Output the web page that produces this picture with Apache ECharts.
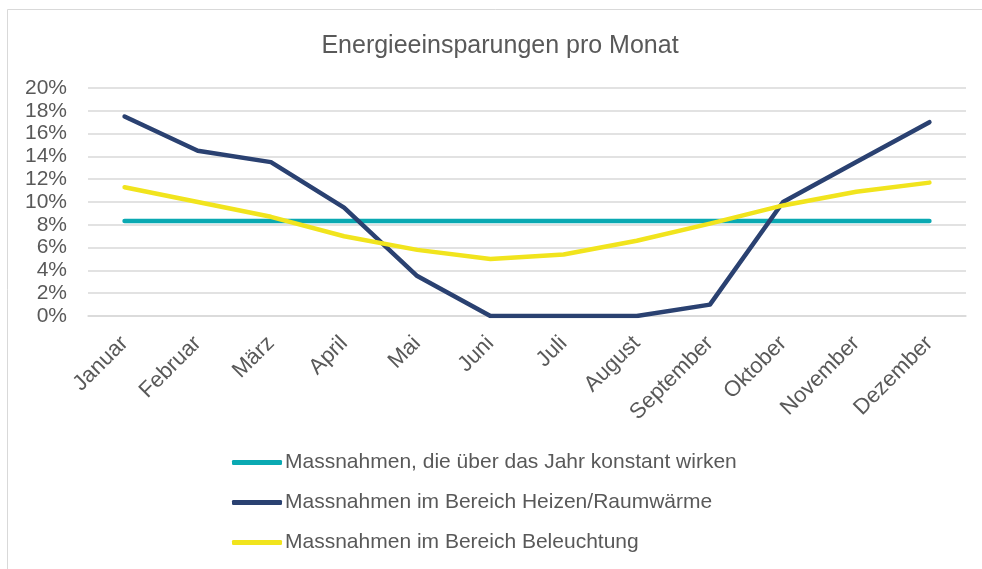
<!DOCTYPE html>
<html>
<head>
<meta charset="utf-8">
<script src="https://cdn.jsdelivr.net/npm/echarts@6/dist/echarts.min.js"></script>
<style>
  html, body { margin: 0; padding: 0; background: #fff; }
  #chart { width: 982px; height: 569px; }
</style>
</head>
<body>
<div id="chart"></div>
<script>
const months = ['Januar', 'Februar', 'März', 'April', 'Mai', 'Juni', 'Juli', 'August', 'September', 'Oktober', 'November', 'Dezember']
const konstant = [8.33, 8.33, 8.33, 8.33, 8.33, 8.33, 8.33, 8.33, 8.33, 8.33, 8.33, 8.33]
const heizen = [17.5, 14.5, 13.5, 9.5, 3.5, 0, 0, 0, 1.0, 10.0, 13.5, 17.0]
const beleuchtung = [11.3, 10.0, 8.7, 7.0, 5.8, 5.0, 5.4, 6.6, 8.1, 9.7, 10.9, 11.7]
const seriesNames = [
    'Massnahmen, die über das Jahr konstant wirken',
    'Massnahmen im Bereich Heizen/Raumwärme',
    'Massnahmen im Bereich Beleuchtung'
]
const seriesColors = ['#0aa9b2', '#2a4171', '#f1e41d']

const textColor = '#595959'
const font = 'Liberation Sans, Arial, sans-serif'

let chart = echarts.init(document.getElementById('chart'))

function lineSeries(name, data, color) {
    return {
        name: name,
        type: 'line',
        data: data,
        showSymbol: false,
        symbol: 'none',
        color: color,
        lineStyle: { width: 4.5, color: color, cap: 'round', join: 'round' },
        emphasis: { disabled: true }
    }
}

chart.setOption({
    backgroundColor: '#fff',
    animation: false,
    graphic: [{
        type: 'rect',
        shape: { x: 7.5, y: 9.5, width: 1000, height: 600 },
        style: { fill: null, stroke: '#d9d9d9', lineWidth: 1 },
        silent: true
    }],
    title: {
        text: 'Energieeinsparungen pro Monat',
        left: 495,
        textAlign: 'center',
        top: 29,
        textStyle: { color: textColor, fontSize: 25, fontWeight: 'normal', fontFamily: font }
    },
    grid: {
        left: 88,
        right: 16,
        top: 88,
        height: 228
    },
    legend: {
        orient: 'vertical',
        left: 227,
        top: 447,
        itemWidth: 50,
        itemHeight: 5,
        itemGap: 19,
        icon: 'roundRect',
        textStyle: { color: textColor, fontSize: 21, fontFamily: font, padding: [0, 0, 0, -2] },
        data: seriesNames
    },
    xAxis: {
        type: 'category',
        data: months,
        boundaryGap: true,
        axisLine: { lineStyle: { color: '#d9d9d9', width: 1.5 } },
        axisTick: { show: false },
        axisLabel: {
            rotate: 45,
            interval: 0,
            margin: 24,
            color: textColor,
            fontSize: 22,
            fontFamily: font
        }
    },
    yAxis: {
        type: 'value',
        min: 0,
        max: 20,
        interval: 2,
        axisLine: { show: false },
        axisTick: { show: false },
        splitLine: { lineStyle: { color: '#d9d9d9', width: 1.5 } },
        axisLabel: {
            margin: 21,
            color: textColor,
            fontSize: 21,
            fontFamily: font,
            formatter: '{value}%'
        }
    },
    series: [
        lineSeries(seriesNames[0], konstant, seriesColors[0]),
        lineSeries(seriesNames[1], heizen, seriesColors[1]),
        lineSeries(seriesNames[2], beleuchtung, seriesColors[2])
    ]
})
</script>
</body>
</html>
